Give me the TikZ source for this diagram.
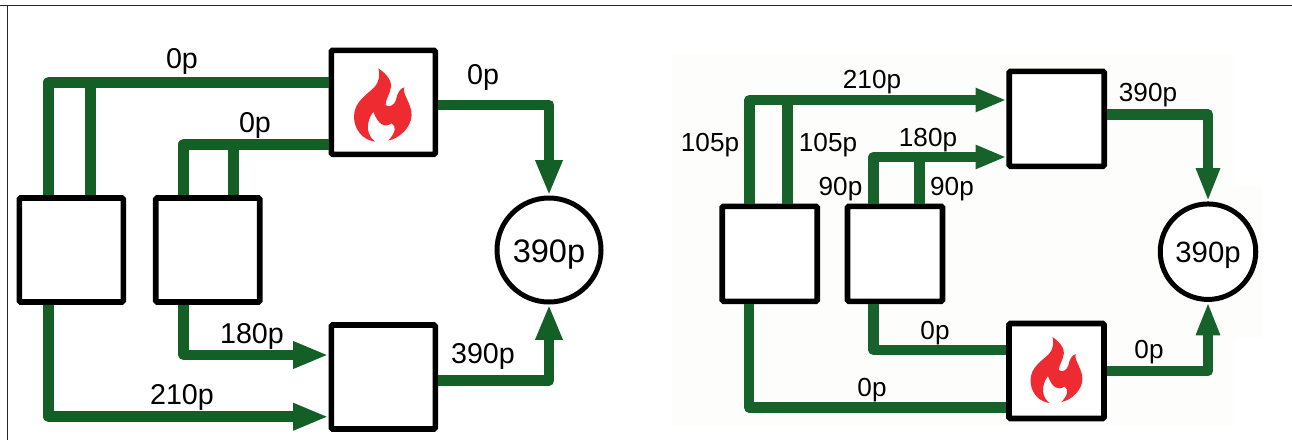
\documentclass[tikz,border=0pt]{standalone}
\usepackage{fontspec}
\setmainfont{Liberation Sans}
\usetikzlibrary{arrows.meta}
\definecolor{wiregreen}{HTML}{145F26}
\definecolor{rwiregreen}{HTML}{16622A}
\definecolor{flamered}{HTML}{EE2B30}
\definecolor{patch}{HTML}{FDFDFC}
\tikzset{
  panelbox/.style={draw=black,fill=white,line width=4.2pt,rounded corners=1pt,inner sep=0pt,minimum width=#1*0.75pt,minimum height=#1*0.75pt},
  sumcircle/.style={draw=black,fill=white,circle,line width=3.75pt,inner sep=0pt,minimum size=#1*0.75pt},
  wire/.style={draw=wiregreen,line width=8.1pt,line join=round},
  rwire/.style={draw=rwiregreen,line width=8pt,line join=round},
  arrowed/.style={-{Triangle[length=26.5pt,width=18.75pt]}},
  rarrowed/.style={-{Triangle[length=25pt,width=16.5pt]}},
  rarrowedh/.style={-{Triangle[length=23pt,width=16.5pt]}},
  lab/.style={inner sep=0pt,anchor=base,font=\fontsize{21.5pt}{23pt}\selectfont},
  labsmall/.style={inner sep=0pt,anchor=base,font=\fontsize{19.6pt}{21pt}\selectfont},
  frameline/.style={draw=black!85,line width=0.9pt},
  flamepath/.pic={
    \fill[flamered,scale=#1] (-15,-105)
      .. controls (0,-95) and (25,-75) .. (23,-50)
      .. controls (22,-30) and (5,-10) .. (7,5)
      .. controls (15,15) and (35,5) .. (38,-10)
      .. controls (42,-30) and (50,-45) .. (63,-48)
      .. controls (55,-30) and (85,0) .. (85,35)
      .. controls (85,70) and (50,105) .. (15,112)
      .. controls (35,90) and (42,70) .. (25,60)
      .. controls (5,75) and (-15,65) .. (-30,25)
      .. controls (-55,60) and (-50,95) .. (-25,115)
      .. controls (-65,110) and (-88,75) .. (-88,40)
      .. controls (-88,-5) and (-50,-25) .. (-25,-50)
      .. controls (-10,-70) and (-10,-90) .. (-15,-105) -- cycle;
  }
}
\begin{document}
\begin{tikzpicture}[x=0.75pt,y=-0.75pt]
\useasboundingbox (0,0) rectangle (1292,440);
\fill[patch] (672,55) -- (1233,55) -- (1233,185) -- (1263,185) -- (1263,337) -- (1233,337) -- (1233,425) -- (672,425) -- cycle;
\draw[frameline] (0,5.3) -- (1292,5.3);
\draw[frameline] (7.7,5.3) -- (7.7,440);
% left panel
\node[panelbox=104] (la) at (71.3,250) {};
\node[panelbox=104] (lb) at (207.7,250) {};
\node[panelbox=104] (lt) at (383.3,102.3) {};
\node[panelbox=104] (ld) at (383.3,377) {};
\node[sumcircle=104,text height=19pt,text depth=0pt,font=\fontsize{24.4pt}{26pt}\selectfont] (lc) at (549,250) {390p};
\pic at (383.3,103.3) {flamepath=0.333};
\draw[wire] ([xshift=-16.9pt]la.north) |- ([yshift=15pt]lt.west);
\draw[wire] ([xshift=14.4pt]la.north) -- ([xshift=14.4pt,yshift=84.75pt]la.north);
\draw[wire] ([xshift=-17.9pt]lb.north) |- ([yshift=-31.4pt]lt.west);
\draw[wire] ([xshift=19.2pt]lb.north) -- ([xshift=19.2pt,yshift=38.25pt]lb.north);
\draw[wire,arrowed] ([yshift=-2pt]lt.east) -| (lc.north);
\draw[wire,arrowed] ([yshift=-2.6pt]ld.east) -| (lc.south);
\draw[wire,arrowed] ([xshift=-16.9pt]la.south) |- ([yshift=-29.8pt]ld.west);
\draw[wire,arrowed] ([xshift=-17.9pt]lb.south) |- ([yshift=16.5pt]ld.west);
\node[lab] (l1) at (182,68) {0p};
\node[lab] (l2) at (255,132.7) {0p};
\node[lab] (l3) at (483,84) {0p};
\node[lab] (l4) at (252,343) {180p};
\node[lab] (l5) at (182,404) {210p};
\node[lab] (l6) at (483,363) {390p};
% right panel
\node[panelbox=95] (ra) at (769.7,253.8) {};
\node[panelbox=95] (rb) at (895,253.8) {};
\node[panelbox=95] (rt) at (1056.7,118.8) {};
\node[panelbox=95] (rd) at (1056.5,371) {};
\node[sumcircle=95.5,text height=15.5pt,text depth=0pt,font=\fontsize{22pt}{24pt}\selectfont] (rc) at (1208,251.7) {390p};
\pic at (1056.9,368.5) {flamepath=0.30};
\draw[rwire,rarrowedh] ([xshift=-15pt]ra.north) |- ([yshift=14.1pt]rt.west);
\draw[rwire] ([xshift=13.35pt]ra.north) -- ([xshift=13.35pt,yshift=77.5pt]ra.north);
\draw[rwire,rarrowedh] ([xshift=-16pt]rb.north) |- ([yshift=-28.65pt]rt.west);
\draw[rwire] ([xshift=18.5pt]rb.north) -- ([xshift=18.5pt,yshift=34.7pt]rb.north);
\draw[rwire,rarrowed] ([yshift=3.2pt]rt.east) -| (rc.north);
\draw[rwire,rarrowed] (rd.east) -| (rc.south);
\draw[rwire] ([xshift=-15.5pt]ra.south) |- ([yshift=-27.2pt]rd.west);
\draw[rwire] ([xshift=-16pt]rb.south) |- ([yshift=15.75pt]rd.west);
\node[labsmall] (r1) at (872,88) {210p};
\node[labsmall] (r2) at (710,151) {105p};
\node[labsmall] (r3) at (828,151) {105p};
\node[labsmall] (r4) at (928,146) {180p};
\node[labsmall] (r5) at (840.5,195) {90p};
\node[labsmall] (r6) at (952,195) {90p};
\node[labsmall] (r7) at (1148,101.7) {390p};
\node[labsmall] (r8) at (935,339) {0p};
\node[labsmall] (r9) at (872,396) {0p};
\node[labsmall] (r10) at (1149,358) {0p};
\end{tikzpicture}
\end{document}
